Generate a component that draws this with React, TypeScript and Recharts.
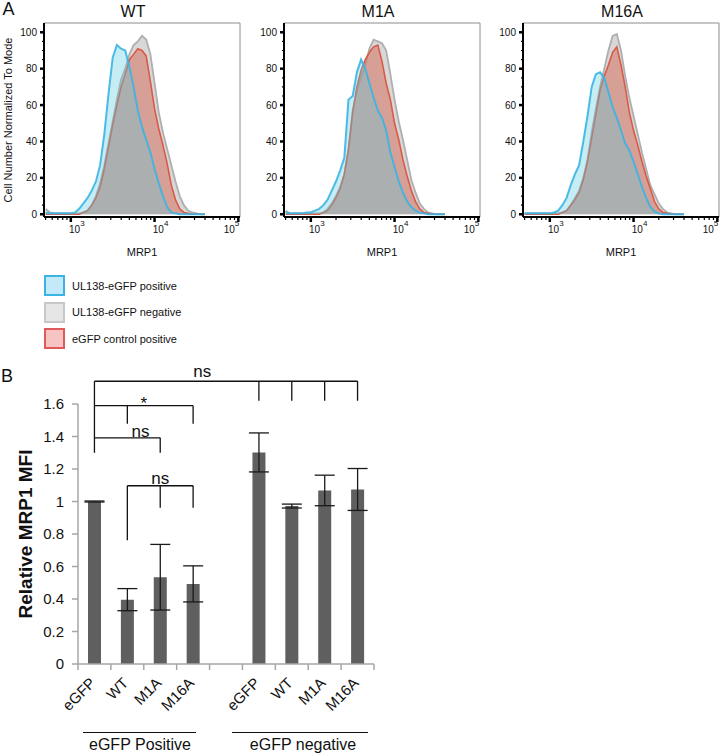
import React from "react";
import {
  AreaChart,
  Area,
  XAxis,
  YAxis,
  ReferenceLine,
  BarChart,
  Bar,
  ErrorBar,
} from "recharts";

const FONT = "'Liberation Sans', Arial, Helvetica, sans-serif";

// ---------- panel A: MRP1 histograms (x in log10 units) ----------
const mrp1Log = [
  2.7, 2.75, 2.8, 2.85, 2.9, 2.95, 3.0, 3.05, 3.1, 3.15, 3.2, 3.25, 3.3, 3.35,
  3.4, 3.45, 3.5, 3.55, 3.6, 3.65, 3.7, 3.75, 3.8, 3.85, 3.9, 3.95, 4.0, 4.05,
  4.1, 4.15, 4.2, 4.25, 4.3, 4.35, 4.4, 4.45, 4.5, 4.55, 4.6,
];

const wtBlue = [1, 0.5, 0.5, 0.5, 0.5, 0.5, 0.5, 1, 3, 6, 9, 13, 18, 27, 44, 66, 86, 93, 91, 90, 81, 70, 57, 48, 41, 34, 25, 17, 10, 4, 1, 0.5, 0, 0, 0, 0, 0, 0, 0];
const wtGrey = [3, 1, 0.5, 0.5, 0.5, 0.5, 0.5, 0.5, 0.5, 1, 2, 5, 10, 17, 27, 39, 51, 63, 74, 80, 88, 93, 95, 98, 96, 88, 72, 56, 45, 36, 27, 18, 10, 5, 2, 1, 0.5, 0, 0];
const wtRed = [0, 0, 0, 0, 0, 0, 0, 0, 0, 1, 2, 5, 9, 15, 25, 37, 49, 60, 70, 77, 85, 88, 91, 90, 87, 73, 58, 47, 38, 28, 16, 8, 3, 1, 0.5, 0, 0, 0, 0];

const m1aBlue = [1, 0.5, 0.5, 0.5, 0.5, 1, 1, 2, 3, 5, 8, 13, 18, 24, 31, 63, 65, 78, 85, 80, 72, 64, 57, 53, 46, 34, 26, 18, 12, 7, 4, 2, 1, 0.5, 0, 0, 0, 0, 0];
const m1aGrey = [2, 0.5, 0.5, 0.5, 0.5, 0.5, 0.5, 0.5, 0.5, 1, 3, 6, 10, 15, 22, 35, 57, 68, 75, 82, 91, 96, 95, 94, 90, 77, 63, 51, 41, 30, 19, 12, 6, 3, 1, 0.5, 0, 0, 0];
const m1aRed = [0, 0, 0, 0, 0, 0, 0, 0, 0, 1, 2, 5, 9, 14, 22, 36, 56, 70, 79, 85, 89, 92, 93, 84, 72, 63, 50, 41, 30, 21, 13, 7, 3, 1, 0.5, 0, 0, 0, 0];

const m16aBlue = [0.5, 0.5, 0.5, 0.5, 0.5, 0.5, 0.5, 1, 2, 5, 9, 16, 22, 27, 40, 54, 70, 77, 78, 75, 67, 59, 53, 46, 39, 35, 29, 22, 15, 9, 4, 1.5, 0.5, 0, 0, 0, 0, 0, 0];
const m16aGrey = [0.5, 0.5, 0.5, 0.5, 0.5, 0.5, 0.5, 0.5, 0.5, 1, 2, 5, 9, 13, 20, 30, 45, 58, 70, 80, 90, 98, 99, 90, 76, 64, 54, 44, 34, 25, 16, 11, 6, 3, 1, 0.5, 0, 0, 0];
const m16aRed = [0, 0, 0, 0, 0, 0, 0, 0, 0, 1, 2, 5, 8, 12, 19, 29, 42, 55, 68, 76, 82, 89, 92, 82, 70, 56, 46, 38, 29, 21, 14, 7, 3, 1, 0.5, 0, 0, 0, 0];

const decades = [3, 4, 5];
const minorSteps = [2, 3, 4, 5, 6, 7, 8, 9];
const countTicks = [0, 5, 10, 15, 20, 25, 30, 35, 40, 45, 50, 55, 60, 65, 70, 75, 80, 85, 90, 95, 100];

const legendLabels = ["UL138-eGFP positive", "UL138-eGFP negative", "eGFP control positive"];
const legendStroke = ["#3ab4e4", "#c8c8c8", "#e05a5a"];
const legendFill = ["#c4e9f8", "#e6e6e6", "#f7c3c3"];

// ---------- panel B: relative MFI ----------
const barIds = ["pos-eGFP", "pos-WT", "pos-M1A", "pos-M16A", "gap", "neg-eGFP", "neg-WT", "neg-M1A", "neg-M16A"];
const barLabels = ["eGFP", "WT", "M1A", "M16A", "", "eGFP", "WT", "M1A", "M16A"];
const mfiValues = [1.0, 0.396, 0.534, 0.493, null, 1.302, 0.972, 1.068, 1.074];
const mfiErrors = [0.003, 0.068, 0.202, 0.111, null, 0.12, 0.012, 0.094, 0.129];
const mfiTicks = [0, 0.2, 0.4, 0.6, 0.8, 1, 1.2, 1.4, 1.6];

// significance brackets (data units)
const bracketBars = [
  { from: "pos-eGFP", to: "neg-M16A", y: 1.74, text: "ns", at: 0.41, gap: 4 },
  { from: "pos-eGFP", to: "pos-M16A", y: 1.59, text: "*", at: 0.5, gap: -3 },
  { from: "pos-eGFP", to: "pos-M1A", y: 1.392, text: "ns", at: 0.7, gap: 1 },
  { from: "pos-WT", to: "pos-M16A", y: 1.097, text: "ns", at: 0.5, gap: 2 },
];
const bracketDrops = [
  { at: "pos-eGFP", top: 1.74, bottom: 1.3 },
  { at: "neg-eGFP", top: 1.74, bottom: 1.62 },
  { at: "neg-WT", top: 1.74, bottom: 1.62 },
  { at: "neg-M1A", top: 1.74, bottom: 1.62 },
  { at: "neg-M16A", top: 1.74, bottom: 1.62 },
  { at: "pos-WT", top: 1.59, bottom: 1.478 },
  { at: "pos-M16A", top: 1.59, bottom: 1.478 },
  { at: "pos-M1A", top: 1.392, bottom: 1.3 },
  { at: "pos-WT", top: 1.097, bottom: 0.762 },
  { at: "pos-M1A", top: 1.097, bottom: 0.962 },
  { at: "pos-M16A", top: 1.097, bottom: 0.962 },
];

// ---------- layout ----------
const HIST_W = 254;
const HIST_H = 262;
const X_DOMAIN: [number, number] = [2.68, 5.02];
const Y_DOMAIN: [number, number] = [-1.5, 105.1];

const panels = [
  { title: "WT", left: 0, titleX: 133, blue: wtBlue, grey: wtGrey, red: wtRed },
  { title: "M1A", left: 240, titleX: 378, blue: m1aBlue, grey: m1aGrey, red: m1aRed },
  { title: "M16A", left: 479, titleX: 622, blue: m16aBlue, grey: m16aGrey, red: m16aRed },
];

const BAR_W = 400;
const BAR_H = 414;
const BAR_LEFT = 78;
const BAR_RIGHT = 26;
const band = (BAR_W - BAR_LEFT - BAR_RIGHT) / barIds.length;

const logTicks = [
  ...[5, 6, 7, 8, 9].map((m) => Math.log10(m * 100)),
  ...decades.flatMap((d) => (d < 5 ? [d, ...minorSteps.map((m) => Math.log10(m * 10 ** d))] : [d])),
];

const Txt = ({ x, y, size, rotate, weight, left, children }: any) => (
  <div
    style={{
      position: "absolute",
      left: x,
      top: y,
      transform: `translate(${left ? "0" : "-50%"}, -50%)${rotate ? ` rotate(${rotate}deg)` : ""}`,
      fontSize: size,
      fontWeight: weight || "normal",
      lineHeight: 1,
      whiteSpace: "nowrap",
      color: "#111",
    }}
  >
    {children}
  </div>
);

const LogTick = ({ x, y, payload }: any) => {
  const v = payload.value;
  const exp = Math.round(v);
  const major = Math.abs(v - exp) < 1e-6;
  const last = exp === decades[decades.length - 1];
  return (
    <g>
      <line x1={x} x2={x} y1={y} y2={y + (major ? 5 : 3)} stroke="#000" strokeWidth={major ? 2.5 : 1.2} />
      {major && (
        <text
          x={last ? x + 1 : x + 6}
          y={y + 16}
          textAnchor={last ? "end" : "middle"}
          fontSize={10}
          fontFamily={FONT}
          fill="#111"
        >
          10
          <tspan dy={-7} fontSize={8}>
            {exp}
          </tspan>
        </text>
      )}
    </g>
  );
};

const CountTick = ({ x, y, payload }: any) => {
  const v = payload.value;
  const major = v % 20 === 0;
  return (
    <g>
      <line x1={x - (major ? 4 : 2)} x2={x} y1={y} y2={y} stroke="#000" strokeWidth={major ? 2.5 : 1.2} />
      {major && (
        <text x={x - 7} y={y + 3.5} textAnchor="end" fontSize={10} fontFamily={FONT} fill="#111">
          {v}
        </text>
      )}
    </g>
  );
};

const Histogram = ({ blue, grey, red }: any) => {
  const rows = mrp1Log.map((x, i) => ({ x, blue: blue[i], grey: grey[i], red: red[i] }));
  return (
    <AreaChart width={HIST_W} height={HIST_H} data={rows} margin={{ top: 23, right: 14, bottom: 0, left: 0 }}>
      <XAxis
        dataKey="x"
        type="number"
        domain={X_DOMAIN}
        allowDataOverflow
        ticks={logTicks}
        interval={0}
        tickSize={0}
        tickMargin={0}
        tickLine={false}
        tick={<LogTick />}
        axisLine={{ stroke: "#000", strokeWidth: 2 }}
        height={45}
      />
      <YAxis
        type="number"
        domain={Y_DOMAIN}
        allowDataOverflow
        ticks={countTicks}
        interval={0}
        tickSize={0}
        tickMargin={0}
        tickLine={false}
        tick={<CountTick />}
        axisLine={{ stroke: "#000", strokeWidth: 2 }}
        width={44}
      />
      <ReferenceLine x={X_DOMAIN[1]} stroke="#8c8c8c" strokeWidth={1} />
      <ReferenceLine y={Y_DOMAIN[1]} stroke="#8c8c8c" strokeWidth={1} />
      <Area type="linear" dataKey="grey" baseValue={0} fill="#d8d8d8" fillOpacity={1} stroke="#afafaf" strokeWidth={1.8} dot={false} activeDot={false} isAnimationActive={false} />
      <Area type="linear" dataKey="red" baseValue={0} fill="#d75d47" fillOpacity={0.45} stroke="#d95a46" strokeWidth={1.6} dot={false} activeDot={false} isAnimationActive={false} />
      <Area type="linear" dataKey="blue" baseValue={0} fill="#5bcbdf" fillOpacity={0.35} stroke="#3ab4e4" strokeOpacity={0.9} strokeWidth={2} dot={false} activeDot={false} isAnimationActive={false} />
    </AreaChart>
  );
};

const GroupTick = ({ x, y, payload, index }: any) => {
  const i = barIds.indexOf(payload.value);
  const label = barLabels[i];
  const ax = x + 2;
  const ay = y + 20;
  return (
    <g>
      <line x1={x - band / 2} x2={x - band / 2} y1={y} y2={y + 6} stroke="#a6a6a6" strokeWidth={1.5} />
      {index === barIds.length - 1 && (
        <line x1={x + band / 2} x2={x + band / 2} y1={y} y2={y + 6} stroke="#a6a6a6" strokeWidth={1.5} />
      )}
      {label && (
        <text x={ax} y={ay} transform={`rotate(-45 ${ax} ${ay})`} textAnchor="end" fontSize={15} fontFamily={FONT} fill="#111">
          {label}
        </text>
      )}
    </g>
  );
};

const bracketLabel = (text: string, at: number, gap: number) => (props: any) => {
  const vb = props.viewBox;
  if (!vb) return null;
  return (
    <text x={vb.x + vb.width * at} y={vb.y - gap} textAnchor="middle" fontSize={17} fontFamily={FONT} fill="#111">
      {text}
    </text>
  );
};

const MfiChart = () => {
  const rows = barIds.map((id, i) => ({ id, mfi: mfiValues[i], sem: mfiErrors[i] }));
  return (
    <BarChart width={BAR_W} height={BAR_H} data={rows} margin={{ top: 64, right: BAR_RIGHT, bottom: 0, left: 0 }}>
      <XAxis
        dataKey="id"
        interval={0}
        tickSize={0}
        tickMargin={0}
        tickLine={false}
        tick={<GroupTick />}
        axisLine={{ stroke: "#a6a6a6", strokeWidth: 1.5 }}
        height={90}
      />
      <YAxis
        domain={[0, 1.6]}
        ticks={mfiTicks}
        interval={0}
        width={BAR_LEFT}
        tickSize={6}
        tickMargin={8}
        axisLine={{ stroke: "#a6a6a6", strokeWidth: 1.5 }}
        tickLine={{ stroke: "#a6a6a6", strokeWidth: 1.5 }}
        tick={{ fontSize: 15, fill: "#111", fontFamily: FONT }}
      />
      <Bar dataKey="mfi" fill="#5f5f5f" barSize={13} isAnimationActive={false}>
        <ErrorBar dataKey="sem" width={10} stroke="#1a1a1a" strokeWidth={1.3} />
      </Bar>
      {bracketDrops.map((d, i) => (
        <ReferenceLine
          key={`d${i}`}
          ifOverflow="visible"
          stroke="#111"
          strokeWidth={1.3}
          segment={[
            { x: d.at, y: d.top },
            { x: d.at, y: d.bottom },
          ]}
        />
      ))}
      {bracketBars.map((b, i) => (
        <ReferenceLine
          key={`b${i}`}
          ifOverflow="visible"
          stroke="#111"
          strokeWidth={1.3}
          segment={[
            { x: b.from, y: b.y },
            { x: b.to, y: b.y },
          ]}
          label={bracketLabel(b.text, b.at, b.gap)}
        />
      ))}
    </BarChart>
  );
};

const App = () => {
  return (
    <div
      style={{
        position: "absolute",
        left: 0,
        top: 0,
        width: 720,
        height: 754,
        background: "#fff",
        fontFamily: FONT,
        overflow: "hidden",
      }}
    >
      <Txt x={8.5} y={9} size={18}>A</Txt>
      <Txt x={8} y={120} size={11} rotate={-90}>Cell Number Normalized To Mode</Txt>

      {panels.map((p) => (
        <React.Fragment key={p.title}>
          <Txt x={p.titleX} y={11.5} size={16}>{p.title}</Txt>
          <div style={{ position: "absolute", left: p.left, top: 0 }}>
            <Histogram blue={p.blue} grey={p.grey} red={p.red} />
          </div>
          <Txt x={p.left + 142} y={251.5} size={11}>MRP1</Txt>
        </React.Fragment>
      ))}

      {legendLabels.map((label, i) => (
        <React.Fragment key={label}>
          <div
            style={{
              position: "absolute",
              left: 44,
              top: 275 + i * 26.5,
              width: 17,
              height: 17,
              border: `2px solid ${legendStroke[i]}`,
              background: legendFill[i],
            }}
          />
          <Txt x={72} y={285.5 + i * 26.5} size={11} left>
            {label}
          </Txt>
        </React.Fragment>
      ))}

      <Txt x={7} y={376} size={18}>B</Txt>
      <Txt x={25} y={534} size={19} weight="bold" rotate={-90}>Relative MRP1 MFI</Txt>
      <div style={{ position: "absolute", left: 0, top: 340 }}>
        <MfiChart />
      </div>

      <div style={{ position: "absolute", left: 83, top: 732, width: 113, borderTop: "1px solid #111" }} />
      <div style={{ position: "absolute", left: 232, top: 732, width: 136, borderTop: "1px solid #111" }} />
      <Txt x={140} y={745} size={16}>eGFP Positive</Txt>
      <Txt x={303} y={745} size={16}>eGFP negative</Txt>
    </div>
  );
};

export default App;
